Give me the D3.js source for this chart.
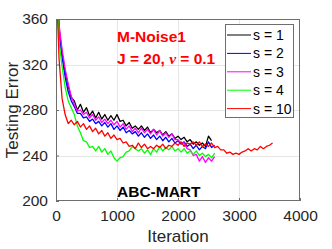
<!DOCTYPE html>
<html>
<head>
<meta charset="utf-8">
<script src="https://cdn.jsdelivr.net/npm/d3@7"></script>
<style>
    body { margin: 0; background: #fff; }
    svg { display: block; font-family: "Liberation Sans", Arial, sans-serif; }
</style>
</head>
<body>
<svg id="chart"></svg>
<script>
// iteration grid shared by all runs (every 50 iterations)
const iterations = [0, 50, 100, 150, 200, 250, 300, 350, 400, 450, 500, 550, 600, 650, 700, 750,
    800, 850, 900, 950, 1000, 1050, 1100, 1150, 1200, 1250, 1300, 1350, 1400, 1450, 1500, 1550,
    1600, 1650, 1700, 1750, 1800, 1850, 1900, 1950, 2000, 2050, 2100, 2150, 2200, 2250, 2300, 2350,
    2400, 2450, 2500, 2550, 2600, 2650, 2700, 2750, 2800, 2850, 2900, 2950, 3000, 3050, 3100, 3150,
    3200, 3250, 3300, 3350, 3400, 3450, 3500, 3550];

const errS1 = [425, 352, 330, 314, 301, 291, 288, 280, 285, 278, 282, 275, 279, 273, 278, 272,
    276, 271, 275, 271, 276, 270, 271, 266, 269, 264, 266, 263, 266, 262, 265, 260,
    263, 260, 262, 258, 261, 257, 259, 255, 257, 254, 256, 252, 254, 250, 252, 249,
    251, 248, 257, 253];
const errS2 = [425, 348, 326, 309, 296, 288, 283, 277, 277, 273, 274, 270, 272, 268, 270, 266,
    269, 265, 268, 263, 266, 262, 265, 260, 262, 259, 261, 257, 260, 256, 259, 255,
    258, 254, 257, 253, 256, 252, 255, 251, 253, 250, 252, 248, 250, 246, 249, 245,
    248, 246, 252, 247, 249];
const errS3 = [425, 355, 333, 316, 303, 292, 285, 279, 280, 276, 278, 273, 276, 271, 274, 269,
    272, 268, 271, 267, 270, 265, 268, 263, 266, 261, 264, 260, 264, 260, 263, 259,
    263, 258, 262, 257, 260, 256, 259, 254, 254, 251, 251, 246, 245, 240, 241, 235,
    239, 234, 238, 235, 239];
const errS4 = [410, 340, 318, 300, 288, 282, 276, 266, 260, 253, 252, 247, 248, 244, 248, 243,
    246, 241, 244, 238, 235, 238, 239, 243, 244, 248, 246, 244, 246, 242, 245, 241,
    246, 243, 248, 244, 247, 245, 248, 244, 246, 243, 246, 242, 244, 241, 244, 240,
    242, 239, 241, 238, 242];
const errS10 = [400, 325, 290, 276, 268, 271, 267, 270, 265, 268, 263, 266, 261, 264, 259, 262,
    257, 260, 255, 258, 254, 255, 251, 252, 248, 249, 246, 251, 247, 250, 246, 248,
    246, 249, 247, 250, 246, 249, 248, 251, 249, 252, 248, 251, 250, 252, 249, 252,
    248, 250, 248, 251, 247, 248, 245, 245, 242, 243, 241, 242, 241, 243, 244, 246,
    244, 246, 245, 248, 246, 248, 249, 251];

const seriesNames = ["s = 1", "s = 2", "s = 3", "s = 4", "s = 10"];
const seriesColors = ["#000000", "#0000ff", "#ff00ff", "#00ff00", "#ff0000"];
const seriesValues = [errS1, errS2, errS3, errS4, errS10];

const xTicks = [0, 1000, 2000, 3000, 4000];
const yTicks = [200, 240, 280, 320, 360];

const width = 332, height = 249;
const margin = {top: 19, right: 32, bottom: 48, left: 56};

let svg = d3.select("#chart")
    .attr("width", width)
    .attr("height", height);

let x = d3.scaleLinear().domain([0, 4000]).range([margin.left, width - margin.right]);
let y = d3.scaleLinear().domain([200, 360]).range([height - margin.bottom, margin.top]);

const plotW = width - margin.left - margin.right,
    plotH = height - margin.top - margin.bottom;

svg.append("defs").append("clipPath")
    .attr("id", "plotClip")
    .append("rect")
    .attr("x", margin.left)
    .attr("y", margin.top)
    .attr("width", plotW)
    .attr("height", plotH);

// grid
let grid = svg.append("g").attr("stroke", "#e6e6e6").attr("stroke-width", 1);
grid.selectAll("line.gx")
    .data(xTicks.slice(1, -1))
    .enter().append("line")
    .attr("x1", d => Math.round(x(d)) + 0.5)
    .attr("x2", d => Math.round(x(d)) + 0.5)
    .attr("y1", margin.top)
    .attr("y2", height - margin.bottom);
grid.selectAll("line.gy")
    .data(yTicks.slice(1, -1))
    .enter().append("line")
    .attr("y1", d => Math.round(y(d)) + 0.5)
    .attr("y2", d => Math.round(y(d)) + 0.5)
    .attr("x1", margin.left)
    .attr("x2", width - margin.right);

// curves
let line = d3.line()
    .x(d => x(d[0]))
    .y(d => y(d[1]));

svg.append("g")
    .attr("clip-path", "url(#plotClip)")
    .selectAll("path")
    .data(seriesValues)
    .enter().append("path")
    .attr("fill", "none")
    .attr("stroke", (d, i) => seriesColors[i])
    .attr("stroke-width", 1.3)
    .attr("stroke-linejoin", "round")
    .attr("d", d => line(d.map((v, i) => [iterations[i], v])));

// axes box and inward ticks
svg.append("rect")
    .attr("x", margin.left + 0.5)
    .attr("y", margin.top + 0.5)
    .attr("width", plotW - 1)
    .attr("height", plotH - 1)
    .attr("fill", "none")
    .attr("stroke", "#6e6e6e")
    .attr("stroke-width", 1);

let xAxis = d3.axisBottom(x).tickValues(xTicks).tickFormat(d3.format("d"))
    .tickSizeInner(-3).tickSizeOuter(0).tickPadding(9);
let yAxis = d3.axisLeft(y).tickValues(yTicks).tickFormat(d3.format("d"))
    .tickSizeInner(-3).tickSizeOuter(0).tickPadding(8);

let gx = svg.append("g")
    .attr("transform", `translate(0,${height - margin.bottom})`)
    .call(xAxis);
let gy = svg.append("g")
    .attr("transform", `translate(${margin.left},0)`)
    .call(yAxis);

[gx, gy].forEach(g => {
    g.select(".domain").remove();
    g.selectAll(".tick line").attr("stroke", "#6e6e6e");
    g.selectAll(".tick text")
        .attr("fill", "#262626")
        .style("font-size", "15.5px")
        .style("font-family", "Liberation Sans, Arial, sans-serif");
});

// axis labels
svg.append("text")
    .attr("x", (margin.left + width - margin.right) / 2)
    .attr("y", 242)
    .attr("text-anchor", "middle")
    .attr("fill", "#262626")
    .style("font-size", "17px")
    .text("Iteration");

svg.append("text")
    .attr("transform", `translate(18,${(margin.top + height - margin.bottom) / 2}) rotate(-90)`)
    .attr("text-anchor", "middle")
    .attr("fill", "#262626")
    .style("font-size", "17px")
    .text("Testing Error");

// annotations
svg.append("text")
    .attr("x", 117)
    .attr("y", 42)
    .attr("fill", "#ff0000")
    .style("font-size", "15.5px")
    .style("font-weight", "bold")
    .text("M-Noise1");

let jText = svg.append("text")
    .attr("x", 117)
    .attr("y", 64)
    .attr("fill", "#ff0000")
    .style("font-size", "15.5px")
    .style("font-weight", "bold");
jText.append("tspan").text("J = 20, ");
jText.append("tspan").style("font-style", "italic").style("font-family", "Liberation Serif, serif").text("ν");
jText.append("tspan").text(" = 0.1");

svg.append("text")
    .attr("x", 117)
    .attr("y", 197)
    .attr("fill", "#000")
    .style("font-size", "15.5px")
    .style("font-weight", "bold")
    .text("ABC-MART");

// legend
let legend = svg.append("g");
legend.append("rect")
    .attr("x", 225.5)
    .attr("y", 24.5)
    .attr("width", 68)
    .attr("height", 93)
    .attr("fill", "#fff")
    .attr("stroke", "#6e6e6e")
    .attr("stroke-width", 1);

let item = legend.selectAll("g.item")
    .data(seriesNames)
    .enter().append("g")
    .attr("transform", (d, i) => `translate(0,${35 + i * 18.4})`);

item.append("line")
    .attr("x1", 227)
    .attr("x2", 251)
    .attr("stroke", (d, i) => seriesColors[i])
    .attr("stroke-width", 1);

item.append("text")
    .attr("x", 253)
    .attr("dy", "0.36em")
    .attr("fill", "#000")
    .style("font-size", "14px")
    .text(d => d);
</script>
</body>
</html>
